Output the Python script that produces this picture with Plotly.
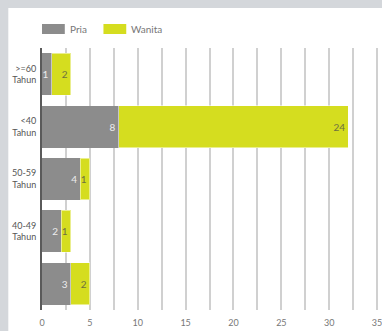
import plotly.graph_objects as go

# Data (top to bottom as shown)
categories = [">=60<br>Tahun", "&lt;40<br>Tahun", "50-59<br>Tahun", "40-49<br>Tahun", " "]
series_names = ["Pria", "Wanita"]
pria = [1, 8, 4, 2, 3]
wanita = [2, 24, 1, 1, 2]
x_ticks = [0, 5, 10, 15, 20, 25, 30, 35]

GRAY = "#8c8c8c"
YELLOW = "#d5dd1f"
BG = "#d4d7db"
FONT = "Lato"

fig = go.Figure()
fig.add_trace(go.Bar(
    y=categories, x=pria, name=series_names[0], orientation="h",
    marker=dict(color=GRAY, line=dict(width=0)),
    text=pria, textposition="inside", insidetextanchor="end",
    textfont=dict(color="#ececec", size=10, family=FONT),
    showlegend=False,
))
fig.add_trace(go.Bar(
    y=categories, x=wanita, name=series_names[1], orientation="h",
    marker=dict(color=YELLOW, line=dict(width=1, color="rgba(255,255,255,0.5)")),
    text=wanita, textposition="inside", insidetextanchor="end",
    textfont=dict(color="#6f7040", size=10, family=FONT),
    showlegend=False,
))

L, R, T, B = 42, 0, 48, 21
W, H = 382, 331
pw, ph = W - L - R, H - T - B

def px_x(p):
    return (p - L) / pw

def px_y(p):
    return 1 - (p - T) / ph

shapes = [
    dict(type="rect", xref="paper", yref="paper", layer="below",
         x0=px_x(-5), x1=px_x(W + 5), y0=px_y(8), y1=px_y(-5),
         fillcolor=BG, line=dict(width=0)),
    dict(type="rect", xref="paper", yref="paper", layer="below",
         x0=px_x(-5), x1=px_x(8), y0=px_y(H + 5), y1=px_y(-5),
         fillcolor=BG, line=dict(width=0)),
    dict(type="rect", xref="paper", yref="paper",
         x0=px_x(42), x1=px_x(65), y0=px_y(34), y1=px_y(24),
         fillcolor=GRAY, line=dict(width=0)),
    dict(type="rect", xref="paper", yref="paper",
         x0=px_x(104), x1=px_x(127), y0=px_y(34), y1=px_y(24),
         fillcolor=YELLOW, line=dict(width=0)),
]
annotations = [
    dict(xref="paper", yref="paper", x=px_x(68), y=px_y(29), text=series_names[0],
         showarrow=False, xanchor="left", yanchor="middle",
         font=dict(family=FONT, size=10, color="#777")),
    dict(xref="paper", yref="paper", x=px_x(130), y=px_y(29), text=series_names[1],
         showarrow=False, xanchor="left", yanchor="middle",
         font=dict(family=FONT, size=10, color="#777")),
]

fig.update_layout(
    width=W, height=H,
    margin=dict(l=L, r=R, t=T, b=B),
    barmode="stack", bargap=0.2,
    uniformtext=dict(minsize=10, mode="show"),
    paper_bgcolor="white", plot_bgcolor="white",
    font=dict(family=FONT, size=9, color="#666"),
    shapes=shapes, annotations=annotations,
    xaxis=dict(
        range=[0, 35.2], tickvals=x_ticks, ticktext=[str(v) for v in x_ticks],
        showgrid=True, gridcolor="#d0d0d0", gridwidth=2,
        minor=dict(dtick=2.5, showgrid=True, gridcolor="#d0d0d0", gridwidth=2),
        zeroline=False, showline=False,
        ticks="outside", ticklen=4, tickcolor="rgba(0,0,0,0)",
        ticklabeloverflow="allow",
        tickfont=dict(size=9, color="#777", family=FONT),
        fixedrange=True,
    ),
    yaxis=dict(
        categoryorder="array", categoryarray=categories, autorange="reversed",
        showgrid=False, zeroline=False,
        showline=True, linecolor="#5a5a5a", linewidth=2,
        ticks="", ticklabelstandoff=2,
        tickfont=dict(size=9, color="#555", family=FONT),
        fixedrange=True,
    ),
)

fig.write_html(
    "out.html",
    config={"displayModeBar": False},
    post_script="document.documentElement.style.overflow='hidden';document.body.style.margin='0';document.body.style.overflow='hidden';",
)
